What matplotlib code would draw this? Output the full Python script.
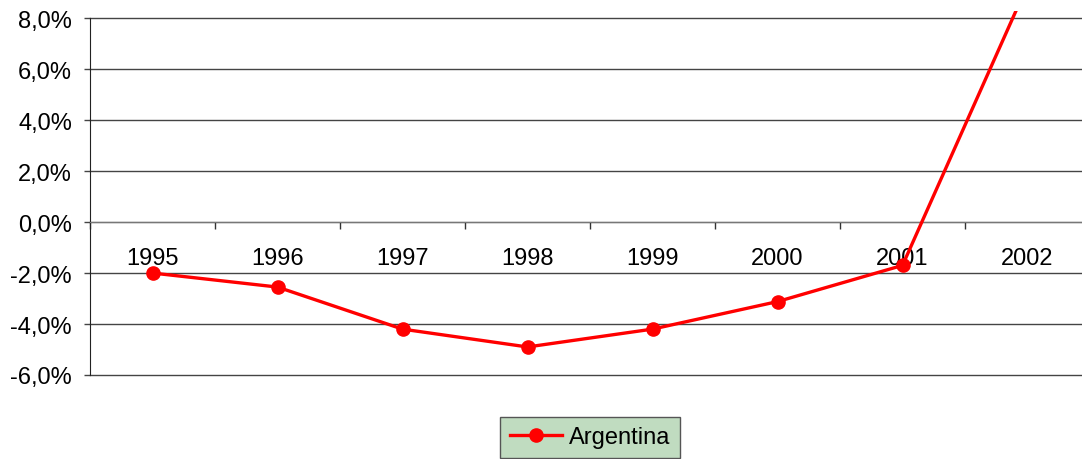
import matplotlib.pyplot as plt
from matplotlib.ticker import FuncFormatter

years = ['1995', '1996', '1997', '1998', '1999', '2000', '2001', '2002']
argentina = [-2.0, -2.55, -4.2, -4.9, -4.2, -3.12, -1.7, 9.3]
y_ticks = [-6, -4, -2, 0, 2, 4, 6, 8]

plt.rcParams['font.family'] = ['Liberation Sans', 'DejaVu Sans']
fs = 17

fig = plt.figure(figsize=(10.82, 4.6), dpi=100)
# axes runs a bit past the right edge, like the cropped original
ax = fig.add_axes([90 / 1082, 84 / 460, 1000 / 1082, 364 / 460])

x = list(range(len(years)))
ax.plot(x, argentina, color='#ff0000', lw=2.4, marker='o', ms=9.5,
        label='Argentina', zorder=3)

ax.set_xlim(-0.5, len(years) - 0.5)
ax.set_ylim(-6, 8.28)

for v in y_ticks:
    ax.axhline(v, color='#444444', lw=1, zorder=1, clip_on=False)

ax.set_yticks(y_ticks)
ax.yaxis.set_major_formatter(FuncFormatter(lambda v, p: f'{v:.1f}%'.replace('.', ',')))
ax.tick_params(axis='y', direction='out', length=4, width=1, color='#444444',
               labelsize=fs, pad=9)

ax.spines['top'].set_visible(False)
ax.spines['right'].set_visible(False)
ax.spines['left'].set_bounds(-6, 8)
ax.spines['left'].set_color('#222222')
ax.spines['bottom'].set_position(('data', 0))
ax.spines['bottom'].set_color('#777777')

ax.set_xticks(x)
ax.set_xticklabels(years)
ax.set_xticks([i - 0.5 for i in range(len(years) + 1)], minor=True)
ax.tick_params(axis='x', which='major', length=0, labelsize=fs, pad=18)
ax.tick_params(axis='x', which='minor', direction='out', length=5, width=1,
               color='#333333')

leg = fig.legend(loc='upper center', bbox_to_anchor=(590 / 1082, 1 - 418 / 460),
                 borderaxespad=0, fancybox=False, framealpha=1,
                 facecolor='#c0dcc0', edgecolor='#555555', fontsize=fs,
                 handlelength=2.2, handletextpad=0.3, borderpad=0.4)
leg.get_frame().set_linewidth(1)

fig.savefig('out.png', dpi=100)
